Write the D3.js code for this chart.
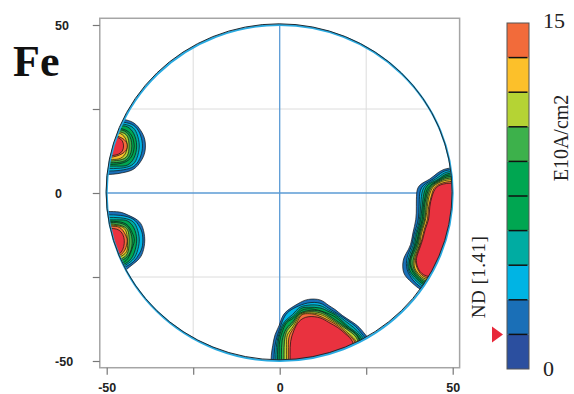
<!DOCTYPE html>
<html>
<head>
<meta charset="utf-8">
<script src="https://cdn.jsdelivr.net/npm/d3@7"></script>
<style>
  body { margin: 0; background: #fff; }
</style>
</head>
<body>
<div id="chart"></div>
<script>
// axis ticks
const xTicks = [-50, -25, 0, 25, 50];
const yTicks = [-50, -25, 0, 25, 50];
const labeledTicks = [-50, 0, 50];

// contour levels (E10A/cm2) and colour bar
const levels = [1.5, 3, 4.5, 6, 7.5, 9, 10.5, 12, 13.5, 15];
const barDomain = [0, 15];
const ndLevel = 1.5;
const bandColors = ["#2b4f9f", "#1a6fb7", "#00b4e4", "#00aca2", "#00a651", "#00a651",
                    "#3db14b", "#b5d334", "#fcc02a", "#f26b3a"];
const peakColor = "#e9323f";

// intensity grid: 2 units per cell, digit = value / 2
const gridStep = 2;
const blobNW = [
  "00000000000",
  "11111100000",
  "33333332000",
  "66666653100",
  "99999963200",
  "99999974200",
  "99999963200",
  "66666653100",
  "33333332000",
  "11111100000",
  "00000000000"
];
const blobSW = [
  "00000000000",
  "11111100000",
  "33333332000",
  "77777753100",
  "99999963200",
  "99999974200",
  "99999963200",
  "99999863100",
  "66666542000",
  "33333310000",
  "11111100000",
  "00000000000"
];
const blobE = [
  "00000000000000",
  "00000000000000",
  "00000000133333",
  "00000001366666",
  "00000136999999",
  "00000136999999",
  "00000149999999",
  "00000159999999",
  "00000159999999",
  "00000159999999",
  "00000279999999",
  "00000499999999",
  "00000499999999",
  "00001599999999",
  "00003899999999",
  "00015999999999",
  "00015999999999",
  "00013699999999",
  "00001366666666",
  "00000133333333",
  "00000000000000",
  "00000000000000"
];
const blobS = [
  "0000000000000000000",
  "0000000000000000000",
  "0000000000000000000",
  "0000000011100000000",
  "0000001333310000000",
  "0000022777643000000",
  "0000044999975310000",
  "0000156999999632000",
  "0000369999999965100",
  "0000469999999997310",
  "0001469999999997410",
  "0001469999999997410",
  "0001469999999997410",
  "0001469999999997410",
  "0001469999999997410",
  "0001469999999997410"
];
// top-left corner (x, y) of each blob block
const blobCorners = [[-56, 24], [-56, -4], [30, 10], [-8, -26]];

const width = 574, height = 394;

const svg = d3.select("#chart")
  .append("svg")
  .attr("width", width)
  .attr("height", height);

const x = d3.scaleLinear().domain([-50, 50]).range([106.7, 452.7]);
const y = d3.scaleLinear().domain([-50, 50]).range([361, 25]);

// Frame
svg.append("rect")
  .attr("x", x(-52))
  .attr("y", y(52))
  .attr("width", x(52) - x(-52))
  .attr("height", y(-52) - y(52))
  .attr("fill", "none")
  .attr("stroke", "#a5a5a5")
  .attr("stroke-width", 1.5);

// Axes
const tickFont = "'Liberation Sans', Arial, sans-serif";
const yAxis = svg.append("g")
  .attr("transform", `translate(${x(-52)},0)`)
  .call(d3.axisLeft(y).tickValues(yTicks).tickSize(7)
    .tickFormat(d => labeledTicks.includes(d) ? d : ""));
yAxis.select(".domain").remove();
yAxis.selectAll("line").attr("stroke", "#777").attr("stroke-width", 1.2);
yAxis.selectAll("text")
  .attr("text-anchor", "start")
  .attr("x", 55 - x(-52))
  .attr("dy", "0.36em")
  .attr("fill", "#222")
  .attr("font-family", tickFont)
  .attr("font-weight", "bold")
  .attr("font-size", 12.5);

const xAxis = svg.append("g")
  .attr("transform", `translate(0,${y(-52)})`)
  .call(d3.axisBottom(x).tickValues(xTicks).tickSize(7).tickPadding(8)
    .tickFormat(d => labeledTicks.includes(d) ? d : ""));
xAxis.select(".domain").remove();
xAxis.selectAll("line").attr("stroke", "#777").attr("stroke-width", 1.2);
xAxis.selectAll("text")
  .attr("fill", "#222")
  .attr("font-family", tickFont)
  .attr("font-weight", "bold")
  .attr("font-size", 12.5);

// Clip to the projection circle
const rx = x(50) - x(0), ry = y(-50) - y(0);
svg.append("defs").append("clipPath").attr("id", "disc")
  .append("ellipse")
  .attr("cx", x(0)).attr("cy", y(0))
  .attr("rx", rx).attr("ry", ry);

const plot = svg.append("g").attr("clip-path", "url(#disc)");

// Grid lines
[-25, 25].forEach(v => {
  plot.append("line")
    .attr("x1", x(v)).attr("x2", x(v)).attr("y1", y(52)).attr("y2", y(-52))
    .attr("stroke", "#dcdcdc").attr("stroke-width", 1);
  plot.append("line")
    .attr("x1", x(-52)).attr("x2", x(52)).attr("y1", y(v)).attr("y2", y(v))
    .attr("stroke", "#dcdcdc").attr("stroke-width", 1);
});
plot.append("line")
  .attr("x1", x(0)).attr("x2", x(0)).attr("y1", y(52)).attr("y2", y(-52))
  .attr("stroke", "#5b9bd5").attr("stroke-width", 1.3);
plot.append("line")
  .attr("x1", x(-52)).attr("x2", x(52)).attr("y1", y(0)).attr("y2", y(0))
  .attr("stroke", "#5b9bd5").attr("stroke-width", 1.3);

// Build the value grid
const gx0 = -60, gy0 = 60, nx = 61, ny = 61;
const values = new Array(nx * ny).fill(0);
[blobNW, blobSW, blobE, blobS].forEach((rows, b) => {
  const [cx0, cy0] = blobCorners[b];
  rows.forEach((row, r) => {
    [...row].forEach((ch, c) => {
      const i = (cx0 - gx0) / gridStep + c;
      const j = (gy0 - cy0) / gridStep + r;
      values[j * nx + i] = +ch * 2;
    });
  });
});

const contours = d3.contours().size([nx, ny]).thresholds(levels)(values);

// grid coordinates -> screen; rings thinned a little and smoothed
const toScreen = ([px, py]) => [x(gx0 + (px - 0.5) * gridStep), y(gy0 - (py - 0.5) * gridStep)];
const ringLine = d3.line().curve(d3.curveBasisClosed);
const ringPath = ring => {
  let pts = ring.slice(0, -1);
  if (pts.length > 14) pts = pts.filter((p, i) => i % 2 === 0);
  return ringLine(pts.map(toScreen));
};
const contourPath = d => d.coordinates
  .map(poly => poly.map(ringPath).join(""))
  .join("");

plot.append("g")
  .selectAll("path")
  .data(contours)
  .enter()
  .append("path")
  .attr("d", contourPath)
  .attr("fill-rule", "evenodd")
  .attr("fill", (d, k) => k < levels.length - 1 ? bandColors[k + 1] : peakColor)
  .attr("stroke", "#111")
  .attr("stroke-width", 0.7)
  .attr("stroke-linejoin", "round");

// Circle outline (cyan + dark line)
svg.append("ellipse")
  .attr("cx", x(0)).attr("cy", y(0)).attr("rx", rx).attr("ry", ry)
  .attr("fill", "none").attr("stroke", "#29aae1").attr("stroke-width", 2);
svg.append("ellipse")
  .attr("cx", x(0) - 0.6).attr("cy", y(0) - 1.2).attr("rx", rx).attr("ry", ry)
  .attr("fill", "none").attr("stroke", "#1d2a33").attr("stroke-width", 1);

// Colour bar
const c = d3.scaleLinear().domain(barDomain).range([369, 23]);
const barX = 507, barW = 22;
const bandEdges = [barDomain[0], ...levels];
const bar = svg.append("g");
bar.selectAll("rect.band")
  .data(bandColors)
  .enter()
  .append("rect")
  .attr("class", "band")
  .attr("x", barX)
  .attr("y", (d, i) => c(bandEdges[i + 1]))
  .attr("width", barW)
  .attr("height", (d, i) => c(bandEdges[i]) - c(bandEdges[i + 1]))
  .attr("fill", d => d);
bar.selectAll("line.div")
  .data(levels.slice(0, -1))
  .enter()
  .append("line")
  .attr("class", "div")
  .attr("x1", barX + 1.5).attr("x2", barX + barW - 1.5)
  .attr("y1", d => c(d)).attr("y2", d => c(d))
  .attr("stroke", "#111").attr("stroke-width", 1.5);
bar.append("rect")
  .attr("x", barX).attr("y", c(barDomain[1]))
  .attr("width", barW).attr("height", c(barDomain[0]) - c(barDomain[1]))
  .attr("fill", "none").attr("stroke", "#555").attr("stroke-width", 1);

// ND marker
const ty = c(ndLevel);
svg.append("path")
  .attr("d", `M503,${ty} L492,${ty - 8} L492,${ty + 8} Z`)
  .attr("fill", "#e8283a");

const serif = "'Liberation Serif', 'Times New Roman', serif";
svg.append("text")
  .attr("x", 543).attr("y", 28)
  .attr("font-family", serif).attr("font-size", 22).attr("fill", "#222")
  .text(barDomain[1]);
svg.append("text")
  .attr("x", 543).attr("y", 376)
  .attr("font-family", serif).attr("font-size", 22).attr("fill", "#222")
  .text(barDomain[0]);

svg.append("text")
  .attr("transform", "translate(568,138) rotate(-90)")
  .attr("text-anchor", "middle")
  .attr("font-family", serif).attr("font-size", 20).attr("fill", "#222")
  .text("E10A/cm2");

svg.append("text")
  .attr("transform", "translate(485,277) rotate(-90)")
  .attr("text-anchor", "middle")
  .attr("font-family", serif).attr("font-size", 19).attr("fill", "#222")
  .attr("letter-spacing", 0.5)
  .text("ND [1.41]");

svg.append("text")
  .attr("x", 13).attr("y", 76)
  .attr("font-family", serif).attr("font-weight", "bold")
  .attr("font-size", 44).attr("fill", "#111")
  .text("Fe");
</script>
</body>
</html>
